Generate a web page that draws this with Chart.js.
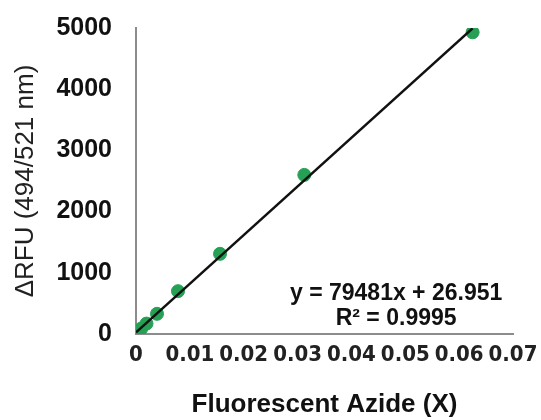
<!DOCTYPE html>
<html>
<head>
<meta charset="utf-8">
<script src="https://cdn.jsdelivr.net/npm/chart.js@4"></script>
<style>
  html, body { margin: 0; padding: 0; background: #fff; }
  #wrap { width: 541px; height: 420px; }
</style>
</head>
<body>
<div id="wrap"><canvas id="calChart"></canvas></div>
<script>
// measured points (azide fraction vs delta RFU)
const azideX = [0, 0.00049, 0.00098, 0.00195, 0.0039, 0.0078, 0.0156, 0.03125, 0.0625];
const deltaRFU = [0, 40, 90, 170, 330, 700, 1310, 2600, 4930];

// linear fit as printed on the chart
const slope = 79481;
const intercept = 26.951;
const rSquared = 0.9995;
const fitRange = [0, 0.0625];

const xTicks = [0, 0.01, 0.02, 0.03, 0.04, 0.05, 0.06, 0.07];
const yTicks = [0, 1000, 2000, 3000, 4000, 5000];

const pointData = azideX.map((x, i) => ({ x: x, y: deltaRFU[i] }));
const fitData = fitRange.map(x => ({ x: x, y: slope * x + intercept }));

const eqLabel = {
    id: 'eqLabel',
    afterDatasetsDraw(chart) {
        const ctx = chart.ctx;
        const xs = chart.scales.x;
        const ys = chart.scales.y;
        ctx.save();
        ctx.fillStyle = '#111';
        ctx.font = 'bold 23px "Liberation Sans", Arial, sans-serif';
        ctx.textAlign = 'center';
        ctx.textBaseline = 'middle';
        ctx.fillText('y = ' + slope + 'x + ' + intercept, xs.getPixelForValue(0.0483), ys.getPixelForValue(665));
        ctx.fillText('R\u00b2 = ' + rSquared, xs.getPixelForValue(0.0483), ys.getPixelForValue(243));
        ctx.restore();
    }
};

const ctx = document.getElementById('calChart').getContext('2d');
new Chart(ctx, {
    type: 'scatter',
    data: {
        datasets: [{
            type: 'line',
            label: 'Linear fit',
            data: fitData,
            borderColor: '#111',
            borderWidth: 2.5,
            pointRadius: 0,
            fill: false,
            order: 0
        }, {
            label: 'Data',
            data: pointData,
            backgroundColor: '#25a055',
            borderColor: '#25a055',
            pointRadius: 6.5,
            order: 1
        }]
    },
    plugins: [eqLabel],
    options: {
        responsive: true,
        maintainAspectRatio: false,
        animation: false,
        layout: { padding: { top: 28, right: 28, left: 0, bottom: 0 } },
        plugins: {
            legend: { display: false },
            tooltip: { enabled: false }
        },
        scales: {
            x: {
                type: 'linear',
                min: 0,
                max: 0.07,
                afterBuildTicks: s => { s.ticks = xTicks.map(v => ({ value: v })); },
                afterFit: s => { s.height = 86; s.paddingLeft = 0; s.paddingRight = 0; },
                grid: { display: false, drawTicks: false },
                border: { color: '#8c8c8c', width: 2 },
                ticks: {
                    padding: 8,
                    color: '#222',
                    maxRotation: 0,
                    font: { family: '"Liberation Sans Narrow", "DejaVu Sans Condensed", Arial, sans-serif', size: 22, weight: 'bold' },
                    callback: v => String(+v.toFixed(2))
                },
                title: {
                    display: true,
                    text: 'Fluorescent Azide (X)',
                    color: '#111',
                    padding: 0,
                    font: { family: '"Liberation Sans", Arial, sans-serif', size: 26, weight: 'bold' }
                }
            },
            y: {
                min: 0,
                max: 5000,
                afterBuildTicks: s => { s.ticks = yTicks.map(v => ({ value: v })); },
                afterFit: s => { s.width = 136; s.paddingTop = 0; s.paddingBottom = 0; },
                grid: { display: false, drawTicks: false },
                border: { color: '#8c8c8c', width: 2 },
                ticks: {
                    padding: 24,
                    color: '#111',
                    font: { family: '"Liberation Sans", Arial, sans-serif', size: 25, weight: 'bold' },
                    callback: v => String(v)
                },
                title: {
                    display: true,
                    text: '\u0394RFU (494/521 nm)',
                    color: '#222',
                    padding: { top: 10, bottom: 0 },
                    font: { family: '"Liberation Sans", Arial, sans-serif', size: 26 }
                }
            }
        }
    }
});
</script>
</body>
</html>
